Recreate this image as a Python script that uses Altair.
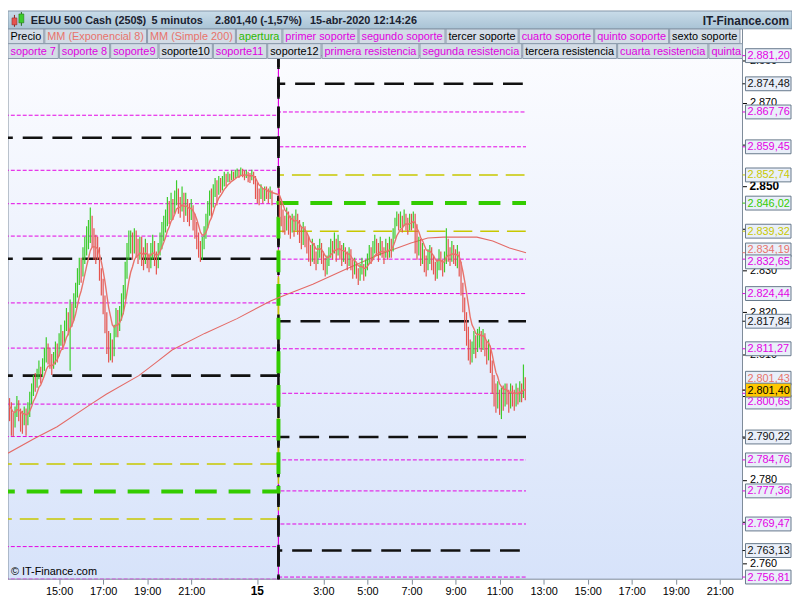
import altair as alt
import pandas as pd

# ------------------------------------------------------------------
# DATA
# time axis: hours counted from 14-abr-2020 00:00 ; 24 = 15-abr 00:00
# ------------------------------------------------------------------
LEFT_START = 12.75     # first bar 14-abr 12:45
RIGHT_START = 25.0     # first bar 15-abr 01:00
STEP = 5 / 60          # 5-minute bars
FIRST_OPEN = 2798.0

left_close = [
    2797.5, 2795.0, 2793.5, 2796.0, 2798.8, 2796.5, 2795.2, 2794.0, 2795.5, 2794.8, 2796.0, 2799.0,
    2801.0, 2803.5, 2802.5, 2805.0, 2806.5, 2804.8, 2807.5, 2809.0, 2811.0, 2810.0, 2808.0, 2807.0,
    2808.5, 2811.0, 2810.0, 2813.5, 2815.0, 2813.0, 2816.5, 2819.0, 2817.5, 2821.0, 2819.5, 2822.0,
    2825.0, 2828.5, 2831.0, 2830.0, 2833.5, 2836.0, 2838.0, 2839.5, 2841.0, 2838.5, 2836.0, 2835.0,
    2834.0, 2829.0, 2826.0, 2822.0, 2818.5, 2813.0, 2810.5, 2812.0, 2809.5, 2814.5, 2818.5, 2817.0,
    2819.5, 2822.0, 2824.5, 2829.5, 2834.0, 2837.0, 2837.0, 2835.5, 2838.0, 2836.0, 2834.5, 2836.0,
    2834.0, 2832.5, 2835.5, 2833.0, 2831.5, 2834.5, 2836.0, 2833.5, 2832.0, 2834.5, 2837.0, 2839.0,
    2840.5, 2842.0, 2845.0, 2843.5, 2846.5, 2844.5, 2847.0, 2849.0, 2846.0, 2845.5, 2847.5, 2844.0,
    2846.0, 2844.0, 2843.5, 2845.0, 2842.0, 2840.5, 2838.0, 2835.5, 2833.5, 2836.0, 2838.5, 2841.0,
    2844.0, 2847.0, 2845.5, 2848.5, 2850.5, 2849.0, 2851.0, 2850.0, 2851.0, 2852.0, 2851.5, 2852.5,
    2852.0, 2852.8, 2852.5, 2853.0, 2853.5, 2852.8, 2853.5, 2853.2, 2852.5, 2853.0, 2852.2, 2852.0,
    2853.0, 2852.0, 2850.5, 2848.0, 2847.5, 2849.0, 2847.5, 2849.0, 2848.5, 2847.5, 2849.0, 2847.5,
]
left_high = [
    2799.5, 2798.5, 2796.0, 2797.5, 2800.0, 2799.0, 2797.0, 2796.5, 2797.5, 2797.0, 2798.5, 2801.0,
    2803.0, 2805.0, 2805.5, 2806.5, 2808.5, 2807.0, 2809.0, 2811.5, 2814.0, 2812.5, 2811.5, 2810.0,
    2810.5, 2813.0, 2812.5, 2815.0, 2817.0, 2815.5, 2818.0, 2821.0, 2820.0, 2823.0, 2822.0, 2824.5,
    2827.0, 2830.5, 2833.0, 2833.0, 2835.5, 2838.0, 2840.5, 2842.0, 2845.0, 2843.0, 2840.0, 2838.5,
    2838.0, 2835.5, 2830.5, 2828.0, 2824.0, 2820.0, 2815.5, 2815.0, 2813.5, 2817.0, 2821.0, 2820.5,
    2821.5, 2824.5, 2826.5, 2832.0, 2836.5, 2839.5, 2839.5, 2839.0, 2840.0, 2839.5, 2837.5, 2838.0,
    2838.0, 2835.5, 2837.5, 2836.5, 2834.0, 2836.5, 2838.5, 2837.0, 2834.5, 2836.5, 2839.0, 2841.5,
    2843.0, 2844.5, 2847.5, 2846.5, 2848.5, 2847.0, 2849.0, 2851.5, 2849.5, 2847.5, 2850.0, 2848.5,
    2848.5, 2847.0, 2846.0, 2847.0, 2845.5, 2843.5, 2841.5, 2839.0, 2837.0, 2838.0, 2840.5, 2843.5,
    2846.5, 2849.0, 2849.5, 2850.5, 2852.0, 2851.5, 2852.5, 2852.0, 2852.5, 2853.5, 2853.0, 2853.5,
    2853.0, 2853.8, 2853.5, 2854.0, 2854.3, 2854.0, 2854.5, 2854.2, 2853.8, 2854.0, 2853.5, 2853.2,
    2854.0, 2853.5, 2852.5, 2851.0, 2849.5, 2850.5, 2849.5, 2850.0, 2850.0, 2849.5, 2850.0, 2849.0,
]
left_low = [
    2794.0, 2790.5, 2790.3, 2792.5, 2795.0, 2794.0, 2791.5, 2791.0, 2793.0, 2790.5, 2793.0, 2795.0,
    2798.0, 2800.0, 2801.0, 2802.0, 2804.0, 2803.0, 2804.5, 2806.0, 2808.0, 2807.5, 2806.5, 2805.0,
    2806.5, 2807.5, 2808.0, 2809.5, 2812.0, 2811.0, 2812.5, 2815.5, 2814.5, 2806.0, 2816.5, 2818.0,
    2821.0, 2823.5, 2826.5, 2827.0, 2828.5, 2831.5, 2833.5, 2835.0, 2836.5, 2835.5, 2832.5, 2831.5,
    2832.5, 2827.5, 2824.0, 2819.5, 2815.0, 2810.0, 2808.0, 2808.5, 2808.0, 2809.5, 2814.0, 2814.0,
    2815.5, 2818.0, 2819.5, 2823.0, 2828.0, 2832.5, 2834.0, 2832.5, 2834.0, 2833.0, 2831.5, 2832.5,
    2831.0, 2830.0, 2831.5, 2830.5, 2829.5, 2830.5, 2832.5, 2831.0, 2829.0, 2830.5, 2833.5, 2835.0,
    2837.0, 2839.0, 2840.5, 2841.0, 2842.0, 2842.0, 2843.5, 2845.5, 2843.5, 2842.5, 2844.0, 2841.5,
    2843.0, 2841.5, 2840.5, 2842.0, 2839.5, 2837.5, 2835.0, 2833.0, 2832.0, 2832.5, 2835.0, 2837.5,
    2840.0, 2843.0, 2842.5, 2845.0, 2847.5, 2845.5, 2848.0, 2848.5, 2849.0, 2850.0, 2850.0, 2851.0,
    2851.0, 2851.5, 2851.5, 2852.0, 2852.3, 2852.0, 2852.5, 2852.2, 2851.5, 2852.0, 2851.0, 2850.8,
    2851.5, 2850.5, 2847.0, 2846.0, 2845.5, 2847.0, 2846.0, 2846.5, 2847.0, 2846.0, 2847.0, 2845.5,
]
right_close = [
    2846.0, 2843.0, 2841.5, 2840.0, 2842.0, 2841.0, 2839.5, 2841.5, 2840.0, 2842.5, 2841.0, 2839.0,
    2837.5, 2839.5, 2838.0, 2836.5, 2835.0, 2832.5, 2835.5, 2834.0, 2832.0, 2834.5, 2836.0, 2834.0,
    2832.0, 2830.5, 2831.5, 2833.5, 2836.0, 2835.0, 2837.5, 2834.5, 2836.5, 2835.0, 2833.5, 2834.5,
    2833.5, 2832.0, 2834.0, 2831.5, 2830.0, 2831.5, 2830.0, 2828.5, 2830.0, 2831.0, 2829.0, 2830.5,
    2832.5, 2834.0, 2833.0, 2835.0, 2836.5, 2835.5, 2834.0, 2836.0, 2835.0, 2833.5, 2835.5, 2834.5,
    2836.0, 2835.0, 2838.5, 2841.0, 2843.0, 2841.5, 2842.5, 2841.0, 2843.5, 2842.0, 2840.5, 2842.0,
    2841.5, 2843.0, 2840.5, 2835.0, 2836.5, 2833.0, 2834.5, 2832.0, 2831.0, 2833.5, 2834.5, 2832.5,
    2831.5, 2829.5, 2830.5, 2833.5, 2832.0, 2830.5, 2832.5, 2837.0, 2835.0, 2833.5, 2835.0, 2834.0,
    2833.0, 2834.0, 2831.5, 2826.5, 2822.5, 2819.0, 2815.0, 2812.0, 2808.5, 2810.5, 2813.0, 2811.0,
    2813.5, 2815.0, 2813.0, 2814.5, 2812.5, 2810.0, 2811.5, 2808.0, 2803.5, 2800.0, 2798.5, 2801.0,
    2797.0, 2800.0, 2799.5, 2801.5, 2800.5, 2799.0, 2801.5, 2800.5, 2799.5, 2801.0, 2800.0, 2802.5,
    2800.5, 2803.5, 2801.4,
]
right_high = [
    2849.5, 2847.0, 2844.5, 2843.0, 2845.0, 2844.0, 2843.0, 2843.5, 2843.0, 2844.5, 2843.5, 2842.0,
    2840.5, 2841.5, 2840.5, 2839.0, 2838.0, 2836.0, 2837.5, 2836.5, 2834.5, 2836.0, 2837.5, 2836.5,
    2834.5, 2833.0, 2833.5, 2835.5, 2837.5, 2837.0, 2839.0, 2837.0, 2838.5, 2837.0, 2836.0, 2836.5,
    2835.5, 2834.5, 2835.5, 2835.0, 2832.5, 2833.0, 2832.0, 2830.5, 2831.5, 2833.0, 2831.5, 2832.5,
    2834.0, 2836.0, 2835.5, 2837.0, 2838.5, 2837.5, 2836.5, 2838.0, 2837.0, 2835.5, 2837.5, 2836.5,
    2838.0, 2837.5, 2840.0, 2842.5, 2844.0, 2843.5, 2844.0, 2843.0, 2844.5, 2843.5, 2842.5, 2843.5,
    2843.5, 2844.0, 2843.5, 2841.0, 2838.0, 2837.5, 2836.5, 2835.0, 2833.5, 2835.0, 2836.0, 2835.5,
    2833.5, 2832.0, 2832.5, 2835.0, 2834.5, 2832.5, 2834.5, 2840.0, 2837.5, 2835.5, 2837.0, 2836.0,
    2835.0, 2836.0, 2834.5, 2832.0, 2827.0, 2823.5, 2820.0, 2816.5, 2813.5, 2813.0, 2815.5, 2814.5,
    2816.0, 2816.5, 2815.5, 2816.0, 2815.0, 2813.0, 2813.5, 2812.0, 2808.5, 2805.0, 2803.0, 2803.5,
    2801.5, 2802.0, 2802.5, 2803.0, 2803.0, 2801.5, 2803.0, 2802.5, 2801.5, 2803.0, 2802.0, 2803.5,
    2803.0, 2807.5, 2804.5,
]
right_low = [
    2842.5, 2840.5, 2839.0, 2838.5, 2839.5, 2838.5, 2837.5, 2839.0, 2838.0, 2839.5, 2838.5, 2836.5,
    2835.0, 2836.0, 2835.5, 2834.0, 2832.0, 2831.0, 2832.0, 2831.5, 2830.0, 2831.5, 2833.0, 2831.5,
    2830.0, 2828.5, 2829.0, 2831.0, 2833.0, 2832.5, 2834.0, 2832.0, 2833.5, 2832.5, 2831.0, 2832.0,
    2831.5, 2830.0, 2831.0, 2830.0, 2828.0, 2829.0, 2828.0, 2826.5, 2827.5, 2829.0, 2827.5, 2828.5,
    2830.0, 2831.5, 2831.5, 2832.5, 2834.0, 2833.5, 2832.0, 2833.5, 2833.0, 2831.5, 2833.0, 2832.5,
    2833.0, 2833.0, 2834.5, 2837.5, 2840.5, 2839.5, 2840.0, 2839.0, 2840.5, 2839.5, 2838.5, 2839.5,
    2839.5, 2840.0, 2834.0, 2832.5, 2833.5, 2831.0, 2831.5, 2829.5, 2828.5, 2830.0, 2831.5, 2830.0,
    2829.0, 2827.5, 2828.0, 2830.0, 2830.0, 2828.5, 2829.5, 2831.5, 2832.0, 2831.0, 2832.0, 2831.5,
    2831.0, 2830.5, 2828.5, 2824.0, 2820.0, 2815.5, 2812.0, 2808.5, 2807.5, 2808.0, 2810.0, 2809.0,
    2810.5, 2811.5, 2810.5, 2811.0, 2809.5, 2807.5, 2808.5, 2805.5, 2800.5, 2797.5, 2796.0, 2797.0,
    2795.5, 2794.5, 2796.5, 2797.5, 2798.0, 2796.0, 2797.0, 2797.5, 2796.5, 2797.5, 2798.0, 2798.5,
    2798.5, 2799.5, 2799.0,
]

# MM (Simple 200), read as knots
sma200_t = [12.68, 13.88, 14.91, 16.38, 17.14, 18.62, 19.38, 20.13, 21.61, 23.08, 24.60,
            25.04, 26.52, 27.99, 29.51, 30.98, 31.74, 32.46, 33.97, 34.69, 35.45, 36.20]
sma200_v = [2786.35, 2789.86, 2792.67, 2797.83, 2800.41, 2804.86, 2807.91, 2810.96, 2814.94,
            2818.46, 2822.68, 2823.61, 2826.66, 2830.18, 2833.69, 2836.51, 2837.68, 2837.91,
            2837.91, 2836.98, 2835.33, 2834.19]

# daily levels: previous session -> current session
level_names = ["apertura", "banda superior", "banda inferior",
               "primer soporte", "segundo soporte", "tercer soporte", "cuarto soporte",
               "quinto soporte", "sexto soporte", "soporte 7", "soporte 8", "soporte9",
               "soporte10", "soporte11",
               "primera resistencia", "segunda resistencia", "tercera resistencia",
               "cuarta resistencia", "quinta resistencia", "sexta resistencia",
               "resistencia 7", "resistencia 8", "resistencia 9", "resistencia 10",
               "resistencia 11"]
level_group = ["apertura", "banda", "banda",
               "nivel", "nivel", "clave", "nivel", "nivel", "clave", "nivel", "nivel", "nivel",
               "clave", "nivel",
               "nivel", "nivel", "clave", "nivel", "nivel", "clave",
               "nivel", "nivel", "nivel", "clave", "nivel"]
level_prev = [2777.20, 2783.77, 2770.64,
              2764.08, 2756.30, 2749.50, 2743.00, 2732.20, 2721.60, 2716.30, 2708.50, 2700.60,
              2692.80, 2687.40,
              2790.33, 2798.07, 2804.86, 2811.43, 2822.21, 2832.76, 2838.15, 2845.88, 2853.85,
              2861.59, 2866.98]
level_curr = [2846.02, 2852.74, 2839.32,
              2832.65, 2824.44, 2817.84, 2811.27, 2800.65, 2790.22, 2784.76, 2777.36, 2769.47,
              2763.13, 2756.81,
              2859.45, 2867.76, 2874.48, 2881.20, 2891.40, 2901.80, 2907.30, 2914.70, 2922.60,
              2928.90, 2935.20]
LEVEL_SWITCH_T = 24.96
LEVEL_END_T = 36.20

x_tick_values = [15, 17, 19, 21, 24, 27, 29, 31, 33, 35, 37, 39, 41, 43, 45]
day_tick = 24          # labelled "15" (bold) on the reference
y_tick_values = list(range(2760, 2890, 10))
y_bold_tick = 2850

legend_row1 = ["Precio", "MM (Exponencial 8)", "MM (Simple 200)", "apertura", "primer soporte",
               "segundo soporte", "tercer soporte", "cuarto soporte", "quinto soporte",
               "sexto soporte"]
legend_row2 = ["soporte 7", "soporte 8", "soporte9", "soporte10", "soporte11", "soporte12",
               "primera resistencia", "segunda resistencia", "tercera resistencia",
               "cuarta resistencia", "quinta resistencia"]

header_texts = ["EEUU 500 Cash (250$)", "5 minutos", "2.801,40 (-1,57%)", "15-abr-2020 12:14:26"]
brand_text = "IT-Finance.com"
copyright_text = "© IT-Finance.com"

# ------------------------------------------------------------------
# STYLE / LAYOUT
# ------------------------------------------------------------------
W, H = 742, 556
PAD_TOP, PAD_RIGHT, PAD_BOTTOM = 18, 50, 18
FONT = "Liberation Sans"
MAGENTA = "#e400e4"
BLACK = "#111111"
GREEN = "#33cc00"
YELLOW = "#c8c800"
SALMON = "#e8736b"
UP = "#3ccc2c"
DOWN = "#e5544e"
group_color = {"apertura": GREEN, "banda": YELLOW, "nivel": MAGENTA, "clave": BLACK}
header_x = [23, 145, 209, 305]

Y_DOMAIN = [2756.3, 2887.6]
XS = alt.Scale(domain=[12.68, 46.03], nice=False, zero=False)
YS = alt.Scale(domain=Y_DOMAIN, nice=False, zero=False)
PX_PER_UNIT = H / (Y_DOMAIN[1] - Y_DOMAIN[0])


def es(v):
    s = f"{v:,.2f}"
    return s.replace(",", "X").replace(".", ",").replace("X", ".")


# ------------------------------------------------------------------
# TABLES
# ------------------------------------------------------------------
assert len(left_close) == len(left_high) == len(left_low)
assert len(right_close) == len(right_high) == len(right_low)
times = [LEFT_START + i * STEP for i in range(len(left_close))] + \
        [RIGHT_START + i * STEP for i in range(len(right_close))]
closes = left_close + right_close
highs = left_high + right_high
lows = left_low + right_low
opens = [FIRST_OPEN] + closes[:-1]
bars = pd.DataFrame({"t": times, "o": opens, "c": closes, "h": highs, "l": lows})
bars["h"] = bars[["h", "o", "c"]].max(axis=1)
bars["l"] = bars[["l", "o", "c"]].min(axis=1)
bars["dir"] = ["sube" if c >= o else "baja" for o, c in zip(bars["o"], bars["c"])]
bars["ema"] = bars["c"].ewm(span=8, adjust=False).mean()

sma = pd.DataFrame({"t": sma200_t, "v": sma200_v})

lvl_rows = []
for name, grp, old, new in zip(level_names, level_group, level_prev, level_curr):
    pts = [(12.0, old), (LEVEL_SWITCH_T, old), (LEVEL_SWITCH_T, new), (LEVEL_END_T, new)]
    for k, (t, v) in enumerate(pts):
        lvl_rows.append({"name": name, "grp": grp, "k": k, "t": t, "v": v})
levels = pd.DataFrame(lvl_rows)

# right-hand value boxes (pushed apart where they would collide) --------
last_ema = float(bars["ema"].iloc[-1])
labels = []
for v, g in zip(level_curr, level_group):
    if Y_DOMAIN[0] <= v <= Y_DOMAIN[1]:
        labels.append({"v": v, "txt": es(v), "col": group_color[g], "layer": 1, "fixed": False})
labels.append({"v": sma200_v[-1], "txt": es(sma200_v[-1]), "col": SALMON, "layer": 0, "fixed": False})
labels.append({"v": last_ema, "txt": es(last_ema), "col": SALMON, "layer": 0, "fixed": False})
labels.append({"v": closes[-1], "txt": es(closes[-1]), "col": "#000000", "layer": 2, "fixed": True})
labels.sort(key=lambda d: -d["v"])
for d in labels:
    d["pos"] = d["v"]
gap = 12 / PX_PER_UNIT
for _ in range(60):
    for a, b in zip(labels[:-1], labels[1:]):
        d = a["pos"] - b["pos"]
        if d < gap:
            need = gap - d
            if a["fixed"]:
                b["pos"] -= need
            elif b["fixed"]:
                a["pos"] += need
            else:
                a["pos"] += need / 2
                b["pos"] -= need / 2
lab_df = pd.DataFrame(labels)

# axis tick labels that sit fully under a value box are not drawn
hidden_ticks = [t for t in y_tick_values
                if any(abs(t - d["pos"]) * PX_PER_UNIT < 5 for d in labels)] + [y_bold_tick]
hidden_js = "[" + ",".join(str(t) for t in hidden_ticks) + "]"

X_AXIS = alt.Axis(
    values=x_tick_values, title=None, grid=False, domain=False,
    labelExpr=f"datum.value == {day_tick} ? '' : (datum.value % 24) + ':00'",
    labelFont=FONT, labelFontSize=11, labelColor="#000000", labelPadding=1,
    tickSize=5, tickColor="#7d8b99", labelFlush=False, labelOverlap=False)
Y_AXIS = alt.Axis(
    orient="right", values=y_tick_values, title=None, grid=False, domain=False,
    labelExpr=f"indexof({hidden_js}, datum.value) >= 0 ? '' : replace(format(datum.value, ',.0f'), ',', '.')",
    labelFont=FONT, labelFontSize=11, labelColor="#000000", labelPadding=3,
    tickSize=4, tickColor="#000000", labelOverlap=False, labelFlush=False)


def X(field):
    return alt.X(field, scale=XS, axis=X_AXIS)


def Y(field):
    return alt.Y(field, scale=YS, axis=Y_AXIS)


# legend boxes (widths from Arial metrics) ---------------------------
AW = {c: 556 for c in "abdeghnopqu0123456789$"}
AW.update({"c": 500, "f": 278, "i": 222, "j": 222, "k": 500, "l": 222, "m": 833, "r": 333,
           "s": 500, "t": 278, "v": 500, "w": 722, "x": 500, "y": 500, "z": 500, " ": 278,
           "(": 333, ")": 333, "P": 667, "M": 833, "S": 667, "E": 667, "%": 889, ",": 278,
           ".": 278, "-": 333, ":": 278})


def text_w(s, size=11):
    return sum(AW.get(ch, 600) for ch in s) * size / 1000.0


def legend_color(name):
    if name == "Precio":
        return "#000000"
    if name.startswith("MM"):
        return SALMON
    if name == "apertura":
        return "#2db800"
    if name in ("tercer soporte", "sexto soporte", "soporte10", "soporte12", "tercera resistencia"):
        return "#000000"
    return "#e000e0"


one = alt.Data(values=[{"a": 1}])

# ------------------------------------------------------------------
# LAYERS
# ------------------------------------------------------------------
layers = []
layers.append(alt.Chart(one).mark_rect(
    fill=alt.Gradient(gradient="linear", x1=0, x2=0, y1=0, y2=1,
                      stops=[alt.GradientStop(color="#fdfdff", offset=0),
                             alt.GradientStop(color="#d7e3fa", offset=1)]),
    stroke="#7d8b99", strokeWidth=1
).encode(x=alt.value(0), x2=alt.value(W), y=alt.value(0), y2=alt.value(H)))

styles = {
    "nivel": dict(stroke=MAGENTA, strokeWidth=1, strokeDash=[4, 2]),
    "banda": dict(stroke=YELLOW, strokeWidth=1.5, strokeDash=[19, 8]),
    "clave": dict(stroke=BLACK, strokeWidth=2.6, strokeDash=[20, 10]),
    "apertura": dict(stroke=GREEN, strokeWidth=4, strokeDash=[22, 12]),
}
for g in ["nivel", "banda", "clave", "apertura"]:
    st = styles[g]
    layers.append(
        alt.Chart(levels[levels.grp == g]).mark_line(
            clip=True, color=st["stroke"], strokeWidth=st["strokeWidth"], strokeDash=st["strokeDash"]
        ).encode(x=X("t:Q"), y=Y("v:Q"), detail="name:N", order="k:Q"))

layers.append(alt.Chart(sma).mark_line(color="#e46a66", strokeWidth=1.1, clip=True).encode(
    x=X("t:Q"), y=Y("v:Q")))

layers.append(alt.Chart(bars).mark_rule(strokeWidth=1.2, clip=True).encode(
    x=X("t:Q"), y=Y("l:Q"), y2="h:Q",
    color=alt.Color("dir:N", scale=alt.Scale(domain=["sube", "baja"], range=[UP, DOWN]), legend=None)))

layers.append(alt.Chart(bars).mark_line(color=SALMON, strokeWidth=1.4, clip=True).encode(
    x=X("t:Q"), y=Y("ema:Q")))

# bold special tick labels
layers.append(alt.Chart(pd.DataFrame({"t": [day_tick], "txt": ["15"]})).mark_text(
    font=FONT, fontSize=12, fontWeight="bold", baseline="middle", color="#000000"
).encode(x=X("t:Q"), y=alt.value(H + 12), text="txt:N"))
layers.append(alt.Chart(pd.DataFrame({"v": [y_bold_tick], "txt": ["2.850"]})).mark_text(
    font=FONT, fontSize=12, fontWeight="bold", baseline="middle", align="left", color="#000000"
).encode(y=Y("v:Q"), x=alt.value(W + 7), text="txt:N"))

layers.append(alt.Chart(one).mark_text(
    text=copyright_text, align="left", baseline="middle", font=FONT, fontSize=11, color="#000000"
).encode(x=alt.value(3), y=alt.value(H - 7)))

# legend rows
for r, row in enumerate([legend_row1, legend_row2]):
    x = 0.0
    for name in row:
        w = text_w(name) + 5
        if x >= W:
            break
        x1 = min(x + w, W)
        layers.append(alt.Chart(one).mark_rect(fill="#d3dce6", stroke="#8b9aab", strokeWidth=1).encode(
            x=alt.value(x), x2=alt.value(x1), y=alt.value(r * 15), y2=alt.value(r * 15 + 15)))
        layers.append(alt.Chart(one).mark_text(
            text=name, align="left", baseline="middle", font=FONT, fontSize=11,
            color=legend_color(name), limit=max(1, W - x - 2), ellipsis="\u200b"
        ).encode(x=alt.value(x + 2.5), y=alt.value(r * 15 + 8)))
        x += w + 1

# header bar
layers.append(alt.Chart(one).mark_rect(
    fill=alt.Gradient(gradient="linear", x1=0, x2=0, y1=0, y2=1,
                      stops=[alt.GradientStop(color="#c9dce9", offset=0),
                             alt.GradientStop(color="#a9c3d5", offset=1)]),
    stroke="#8597a8", strokeWidth=1
).encode(x=alt.value(0), x2=alt.value(W + PAD_RIGHT), y=alt.value(-PAD_TOP), y2=alt.value(0)))
for txt, hx in zip(header_texts, header_x):
    layers.append(alt.Chart(one).mark_text(
        text=txt, align="left", baseline="middle", font=FONT, fontSize=11, fontWeight="bold",
        color="#1b2230").encode(x=alt.value(hx), y=alt.value(-8)))
layers.append(alt.Chart(one).mark_text(
    text=brand_text, align="right", baseline="middle", font=FONT, fontSize=12, fontWeight="bold",
    color="#1b2230").encode(x=alt.value(W + PAD_RIGHT - 3), y=alt.value(-8)))
layers.append(alt.Chart(one).mark_rule(color="#8a2020").encode(
    x=alt.value(6.5), y=alt.value(-14), y2=alt.value(-2)))
layers.append(alt.Chart(one).mark_rule(color="#1d6a12").encode(
    x=alt.value(13.5), y=alt.value(-17), y2=alt.value(-3)))
layers.append(alt.Chart(one).mark_rect(fill=DOWN, stroke="#8a2020", strokeWidth=0.5).encode(
    x=alt.value(4), x2=alt.value(9), y=alt.value(-11), y2=alt.value(-4)))
layers.append(alt.Chart(one).mark_rect(fill=UP, stroke="#1d6a12", strokeWidth=0.5).encode(
    x=alt.value(11), x2=alt.value(16), y=alt.value(-15), y2=alt.value(-6)))

# value boxes on the right
BOX_PATH = "M-1,-0.3043L1,-0.3043L1,0.3043L-1,0.3043Z"
for lay, fill in [(0, "#e9eff9"), (1, "#e9eff9"), (2, "#ffc800")]:
    df = lab_df[lab_df.layer == lay]
    layers.append(alt.Chart(df).mark_rule(strokeWidth=1).encode(
        x=alt.value(W), x2=alt.value(W + 4), y=Y("v:Q"), color=alt.Color("col:N", scale=None)))
    layers.append(alt.Chart(df).mark_point(
        shape=BOX_PATH, size=46 * 46, filled=True, fill=fill, stroke="#66788b",
        strokeWidth=1, opacity=1).encode(x=alt.value(W + 26), y=Y("pos:Q")))
    layers.append(alt.Chart(df).mark_text(
        align="left", baseline="middle", font=FONT, fontSize=11, dy=0.5).encode(
        x=alt.value(W + 5), y=Y("pos:Q"), text="txt:N", color=alt.Color("col:N", scale=None)))

chart = alt.layer(*layers).properties(
    width=W, height=H,
    padding={"left": 0, "top": PAD_TOP, "right": PAD_RIGHT, "bottom": PAD_BOTTOM},
    autosize=alt.AutoSizeParams(type="none"),
    background="#ffffff",
).configure_view(strokeWidth=0)

chart.save("out.html", embed_options={"renderer": "svg", "actions": False})
